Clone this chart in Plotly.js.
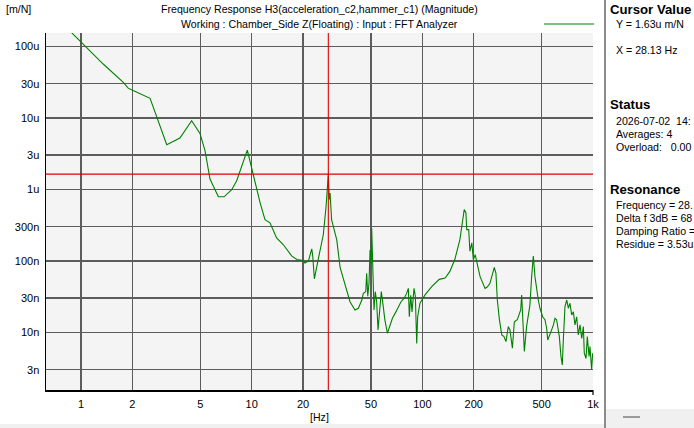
<!DOCTYPE html>
<html>
<head>
<meta charset="utf-8">
<script src="https://cdn.plot.ly/plotly-3.0.1.min.js"></script>
<style>html,body{margin:0;padding:0;background:#fff;}#chart{width:694px;height:428px;}</style>
</head>
<body>
<div id="chart"></div>
<script>
// ---- data ----
const freqHz = [0.625, 1.01, 1.35, 1.77, 1.89, 2.02, 2.54, 3.18, 3.80, 4.45, 4.98, 5.33, 5.70, 6.38, 6.89, 7.64, 8.17, 9.43,
  11.2, 11.97, 12.8, 14.0, 15.3, 17.2, 18.4, 20.1, 20.5, 21.5, 22.5, 22.8, 23.3, 24.3, 26.3, 27.3, 27.9, 28.13, 28.5, 28.8, 29.4,
  31.5, 33.0, 35.3, 37.7, 40.3, 42.2, 44.2, 45.1, 46.6, 47.2, 47.9, 48.7, 49.4, 50.0, 50.5, 50.9, 51.4, 52.1, 53.0, 54.0,
  55.0, 56.5, 57.5, 58.9, 60.3, 62.4, 63.9, 66.8, 70.0, 72.4, 75.0, 78.3, 80.9, 82.8, 83.9, 85.5, 87.0, 89.4, 91.0, 92.7,
  93.9, 96.9, 103.7, 113.5, 125.6, 136, 145, 155, 166, 172, 176, 180, 182, 187, 190, 195, 199, 204,
  218, 233, 240, 249, 258, 264, 270, 275, 283, 292, 301, 309, 319, 326, 337, 346, 360, 377, 382, 387, 396, 408, 418, 427,
  437, 447, 457, 468, 478, 489, 507, 523, 535, 543, 560, 573, 586, 599, 612, 635, 649, 661, 670, 685, 702, 717, 733, 750,
  767, 784, 802, 820, 839, 859, 878, 889, 910, 926, 948, 960, 982, 995, 1000];
const magMN = [3.5e-4, 1.14e-4, 5.65e-5, 3.13e-5, 2.6e-5, 2.4e-5, 1.87e-5, 4.2e-6, 5.2e-6, 9.1e-6, 6.05e-6, 3.47e-6, 1.39e-6, 7.85e-7, 7.85e-7, 9.85e-7, 1.32e-6, 3.53e-6,
  6.5e-7, 3.77e-7, 3.39e-7, 2.09e-7, 1.69e-7, 1.16e-7, 1.04e-7, 1.01e-7, 9.3e-8, 9.9e-8, 1.47e-7, 1.16e-7, 5.6e-8, 9.3e-8, 2.33e-7, 5.8e-7, 1.17e-6, 1.63e-6, 7.2e-7, 8.9e-7, 3.77e-7,
  1.98e-7, 8.0e-8, 4.6e-8, 2.68e-8, 2.05e-8, 2.17e-8, 2.83e-8, 3.5e-8, 3.7e-8, 6.7e-8, 3.2e-8, 4.84e-8, 1.42e-7, 9.2e-8, 2.85e-7, 1.14e-7, 5.4e-8, 2.05e-8, 3.7e-8, 2.68e-8,
  1.08e-8, 2.05e-8, 3.7e-8, 2.4e-8, 1.5e-8, 9.7e-9, 1.14e-8, 1.57e-8, 1.93e-8, 2.28e-8, 2.68e-8, 3.0e-8, 3.5e-8, 4.12e-8, 1.65e-8, 3.3e-8, 1.93e-8, 4.12e-8, 3.2e-8, 7.0e-9,
  1.65e-8, 2.55e-8, 3.33e-8, 4.35e-8, 5.5e-8, 5.75e-8, 7.1e-8, 1.04e-7, 1.98e-7, 3.57e-7, 5.2e-7, 4.7e-7, 2.73e-7, 2.73e-7, 1.36e-7, 1.78e-7, 1.04e-7, 1.22e-7,
  6.0e-8, 4.1e-8, 4.3e-8, 4.84e-8, 6.7e-8, 8.1e-8, 6.7e-8, 2.83e-8, 1.49e-8, 9.2e-9, 8.7e-9, 7.4e-9, 1.2e-8, 1.09e-8, 6.0e-9, 1.4e-8, 1.5e-8, 2.05e-8, 3.33e-8, 1.5e-8, 5.4e-9, 1.2e-8, 1.65e-8, 2.4e-8,
  6.0e-8, 1.17e-7, 6.0e-8, 3.9e-8, 2.83e-8, 2.17e-8, 1.65e-8, 1.5e-8, 1.14e-8, 7.8e-9, 9.2e-9, 1.09e-8, 1.27e-8, 1.57e-8, 1.5e-8, 8.7e-9, 4.6e-9, 3.5e-9, 7.8e-9, 2.28e-8, 2.83e-8, 2.17e-8, 2.55e-8, 1.75e-8,
  1.93e-8, 1.27e-8, 1.65e-8, 9.2e-9, 1.27e-8, 8.2e-9, 1.2e-8, 5.1e-9, 4.3e-9, 8.7e-9, 4.6e-9, 6.3e-9, 3.0e-9, 5.1e-9, 4.6e-9];

const cursorX = 28.13;      // Hz
const cursorY = 1.63e-6;    // m/N

const xTickVals = [1, 2, 5, 10, 20, 50, 100, 200, 500, 1000];
const xTickText = ["1", "2", "5", "10", "20", "50", "100", "200", "500", "1k"];
const yTickVals = [3e-9, 1e-8, 3e-8, 1e-7, 3e-7, 1e-6, 3e-6, 1e-5, 3e-5, 1e-4];
const yTickText = ["3n", "10n", "30n", "100n", "300n", "1u", "3u", "10u", "30u", "100u"];

const titleLine1 = "Frequency Response H3(acceleration_c2,hammer_c1) (Magnitude)";
const titleLine2 = "Working : Chamber_Side Z(Floating) : Input : FFT Analyzer";
const yUnit = "[m/N]";
const xUnit = "[Hz]";
const panelHeads = ["Cursor Value", "Status", "Resonance"];
const panelLines = [
  "Y = 1.63u m/N", "X = 28.13 Hz",
  "2026-07-02\u00a0\u00a014:", "Averages: 4", "Overload:\u00a0\u00a0 0.00",
  "Frequency = 28.", "Delta f 3dB = 68", "Damping Ratio =", "Residue = 3.53u"
];

// ---- layout geometry (pixels) ----
const W = 694, H = 428;
const L = 46, R = 593, T = 33, B = 390;
const px = x => (x - L) / (R - L);
const py = y => (B - y) / (B - T);
const FONT = "Liberation Sans, Arial, sans-serif";
const TXT = 10.6;
const HEAD = { family: FONT, size: 13.2, color: "#000", weight: "bold" };

const traces = [
  { x: freqHz, y: magMN, type: "scatter", mode: "lines",
    line: { color: "#008000", width: 1.1 }, hoverinfo: "skip", showlegend: false },
  { x: [cursorX, cursorX], y: [1e-10, 1e-2], type: "scatter", mode: "lines",
    line: { color: "#e00000", width: 1.1 }, hoverinfo: "skip", showlegend: false },
  { x: [0.1, 10000], y: [cursorY, cursorY], type: "scatter", mode: "lines",
    line: { color: "#e00000", width: 1.1 }, hoverinfo: "skip", showlegend: false }
];

function note(text, xp, yp, opts) {
  return Object.assign({ text: text, xref: "paper", yref: "paper", x: px(xp), y: py(yp),
    xanchor: "left", yanchor: "middle", showarrow: false, borderpad: 0,
    font: { family: FONT, size: TXT, color: "#000" } }, opts || {});
}

const annotations = [
  note(titleLine1, (L + R) / 2, 9, { xanchor: "center" }),
  note(titleLine2, (L + R) / 2, 24, { xanchor: "center" }),
  note(yUnit, 5, 9),
  note(xUnit, 319, 417, { xanchor: "center" }),
  note(panelHeads[0], 609, 9, { font: HEAD }),
  note(panelLines[0], 615, 24),
  note(panelLines[1], 615, 50),
  note(panelHeads[1], 609, 105, { font: HEAD }),
  note(panelLines[2], 615, 121),
  note(panelLines[3], 615, 134),
  note(panelLines[4], 615, 147),
  note(panelHeads[2], 609, 189, { font: HEAD }),
  note(panelLines[5], 615, 205),
  note(panelLines[6], 615, 218),
  note(panelLines[7], 615, 231),
  note(panelLines[8], 615, 244)
];

const shapes = [
  // legend sample line
  { type: "line", xref: "paper", yref: "paper", x0: px(544), x1: px(594), y0: py(24), y1: py(24),
    line: { color: "#008000", width: 1.2 } },
  // 1k end tick
  { type: "line", xref: "paper", yref: "paper", x0: px(593), x1: px(593), y0: py(390), y1: py(395),
    line: { color: "#000", width: 1.2 } },
  // panel separator
  { type: "line", xref: "paper", yref: "paper", x0: px(605), x1: px(605), y0: py(0), y1: py(428),
    line: { color: "#6e6e6e", width: 1.6 } },
  // panel bottom band
  { type: "rect", xref: "paper", yref: "paper", x0: px(606), x1: px(694), y0: py(409), y1: py(428),
    fillcolor: "#f0f0f0", line: { width: 0 }, layer: "below" },
  { type: "line", xref: "paper", yref: "paper", x0: px(623), x1: px(640), y0: py(417), y1: py(417),
    line: { color: "#9a9a9a", width: 2 } },
  // window bottom strip
  { type: "rect", xref: "paper", yref: "paper", x0: px(0), x1: px(604), y0: py(424), y1: py(428),
    fillcolor: "#f0f0f0", line: { width: 0 }, layer: "below" }
];

const axisCommon = {
  type: "log", showgrid: true, gridcolor: "#5c5c5c", gridwidth: 1.5,
  showline: true, linecolor: "#000", linewidth: 1.5, ticks: "", zeroline: false,
  tickfont: { family: FONT, size: 11, color: "#000" }, fixedrange: true
};

const layout = {
  width: W, height: H,
  margin: { l: L, r: W - R, t: T, b: H - B, pad: 0 },
  paper_bgcolor: "#ffffff", plot_bgcolor: "#f4f4f4",
  showlegend: false,
  xaxis: Object.assign({}, axisCommon, {
    range: [-0.205, 3.0], tickmode: "array", tickvals: xTickVals, ticktext: xTickText, ticklabelstandoff: 3
  }),
  yaxis: Object.assign({}, axisCommon, {
    range: [-8.807, -3.814], tickmode: "array", tickvals: yTickVals, ticktext: yTickText, ticklabelstandoff: 3
  }),
  annotations: annotations,
  shapes: shapes
};

Plotly.newPlot("chart", traces, layout, { staticPlot: true, displayModeBar: false });
</script>
</body>
</html>
